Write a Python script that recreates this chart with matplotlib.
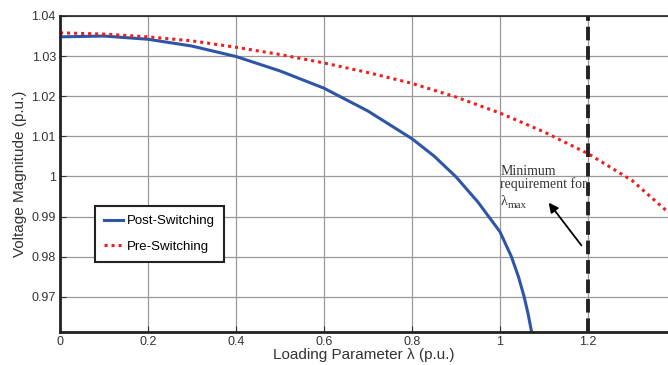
import matplotlib
matplotlib.use("Agg")
import matplotlib.pyplot as plt

# Loading parameter values (p.u.) and voltages
post_lambda = [0.0, 0.1, 0.2, 0.3, 0.4, 0.5, 0.6, 0.7, 0.8, 0.85, 0.9, 0.95,
               1.0, 1.026, 1.042, 1.055, 1.064, 1.072]
post_voltage = [1.0348, 1.0350, 1.0342, 1.0325, 1.0299, 1.0263, 1.0220,
                1.0163, 1.0094, 1.0051, 0.9999, 0.9936, 0.9862, 0.9800,
                0.9750, 0.9700, 0.9657, 0.9612]

pre_lambda = [0.0, 0.1, 0.2, 0.3, 0.4, 0.5, 0.6, 0.7, 0.8, 0.9, 1.0, 1.1,
              1.2, 1.3, 1.382]
pre_voltage = [1.0358, 1.0355, 1.0348, 1.0338, 1.0322, 1.0304, 1.0283,
               1.0259, 1.0232, 1.0198, 1.0158, 1.0111, 1.0057, 0.9990,
               0.9911]

lambda_min = 1.2
x_ticks = [0, 0.2, 0.4, 0.6, 0.8, 1.0, 1.2]
x_tick_labels = ["0", "0.2", "0.4", "0.6", "0.8", "1", "1.2"]
y_ticks = [0.97, 0.98, 0.99, 1.0, 1.01, 1.02, 1.03, 1.04]
y_tick_labels = ["0.97", "0.98", "0.99", "1", "1.01", "1.02", "1.03", "1.04"]

plt.rcParams["font.family"] = ["Liberation Sans", "DejaVu Sans"]

fig = plt.figure(figsize=(6.68, 3.65), dpi=100)
ax = fig.add_axes([60 / 668, 1 - 332 / 365, 1 - 60 / 668, 316 / 365])

ax.plot(post_lambda, post_voltage, color="#2E55A6", lw=2.2,
        label="Post-Switching")
ax.plot(pre_lambda, pre_voltage, color="#F01E1E", lw=2.2,
        linestyle=(0, (1, 1.3)), label="Pre-Switching")
ax.axvline(lambda_min, color="#222222", lw=2.8, linestyle=(0, (3.5, 1.5)))

ax.set_xlim(0, 1.382)
ax.set_ylim(0.9612, 1.04)
ax.set_xticks(x_ticks)
ax.set_xticklabels(x_tick_labels)
ax.set_yticks(y_ticks)
ax.set_yticklabels(y_tick_labels)
ax.tick_params(direction="in", length=4, labelsize=9, colors="#333333",
               labelcolor="#333333", pad=3)
ax.grid(True, color="#999999", lw=0.9)

for side in ["left", "bottom"]:
    ax.spines[side].set_linewidth(2)
    ax.spines[side].set_color("#222222")
ax.spines["top"].set_linewidth(1.2)
ax.spines["top"].set_color("#222222")
ax.spines["right"].set_visible(False)

ax.set_xlabel("Loading Parameter λ (p.u.)", fontsize=11, color="#333333",
              labelpad=0)
ax.set_ylabel("Voltage Magnitude (p.u.)", fontsize=11, color="#333333",
              labelpad=3)

# annotation for the minimum loading requirement
ax.annotate("", xy=(1.107, 0.9940), xytext=(1.189, 0.98225),
            arrowprops=dict(arrowstyle="-|>", color="black", lw=1.3,
                            mutation_scale=14))
note_xy = (1.001, 1.00025)
serif = dict(family="Liberation Serif", color="#333333", va="baseline",
             ha="left", textcoords="offset pixels")
ax.annotate("Minimum", xy=note_xy, xytext=(0, 0), fontsize=10, **serif)
ax.annotate("requirement for", xy=note_xy, xytext=(0, -13), fontsize=10,
            **serif)
ax.annotate("λ", xy=note_xy, xytext=(0, -30), fontsize=10, **serif)
ax.annotate("max", xy=note_xy, xytext=(7, -33), fontsize=8, **serif)

leg = ax.legend(loc="upper left", bbox_to_anchor=(35 / 608, 1 - 190 / 316),
                borderaxespad=0, fontsize=9.5, fancybox=False, framealpha=1,
                edgecolor="#222222", handlelength=1.4, handletextpad=0.3,
                borderpad=0.7, labelspacing=1.0)
leg.get_frame().set_linewidth(1.5)

fig.savefig("out.png", dpi=100)
